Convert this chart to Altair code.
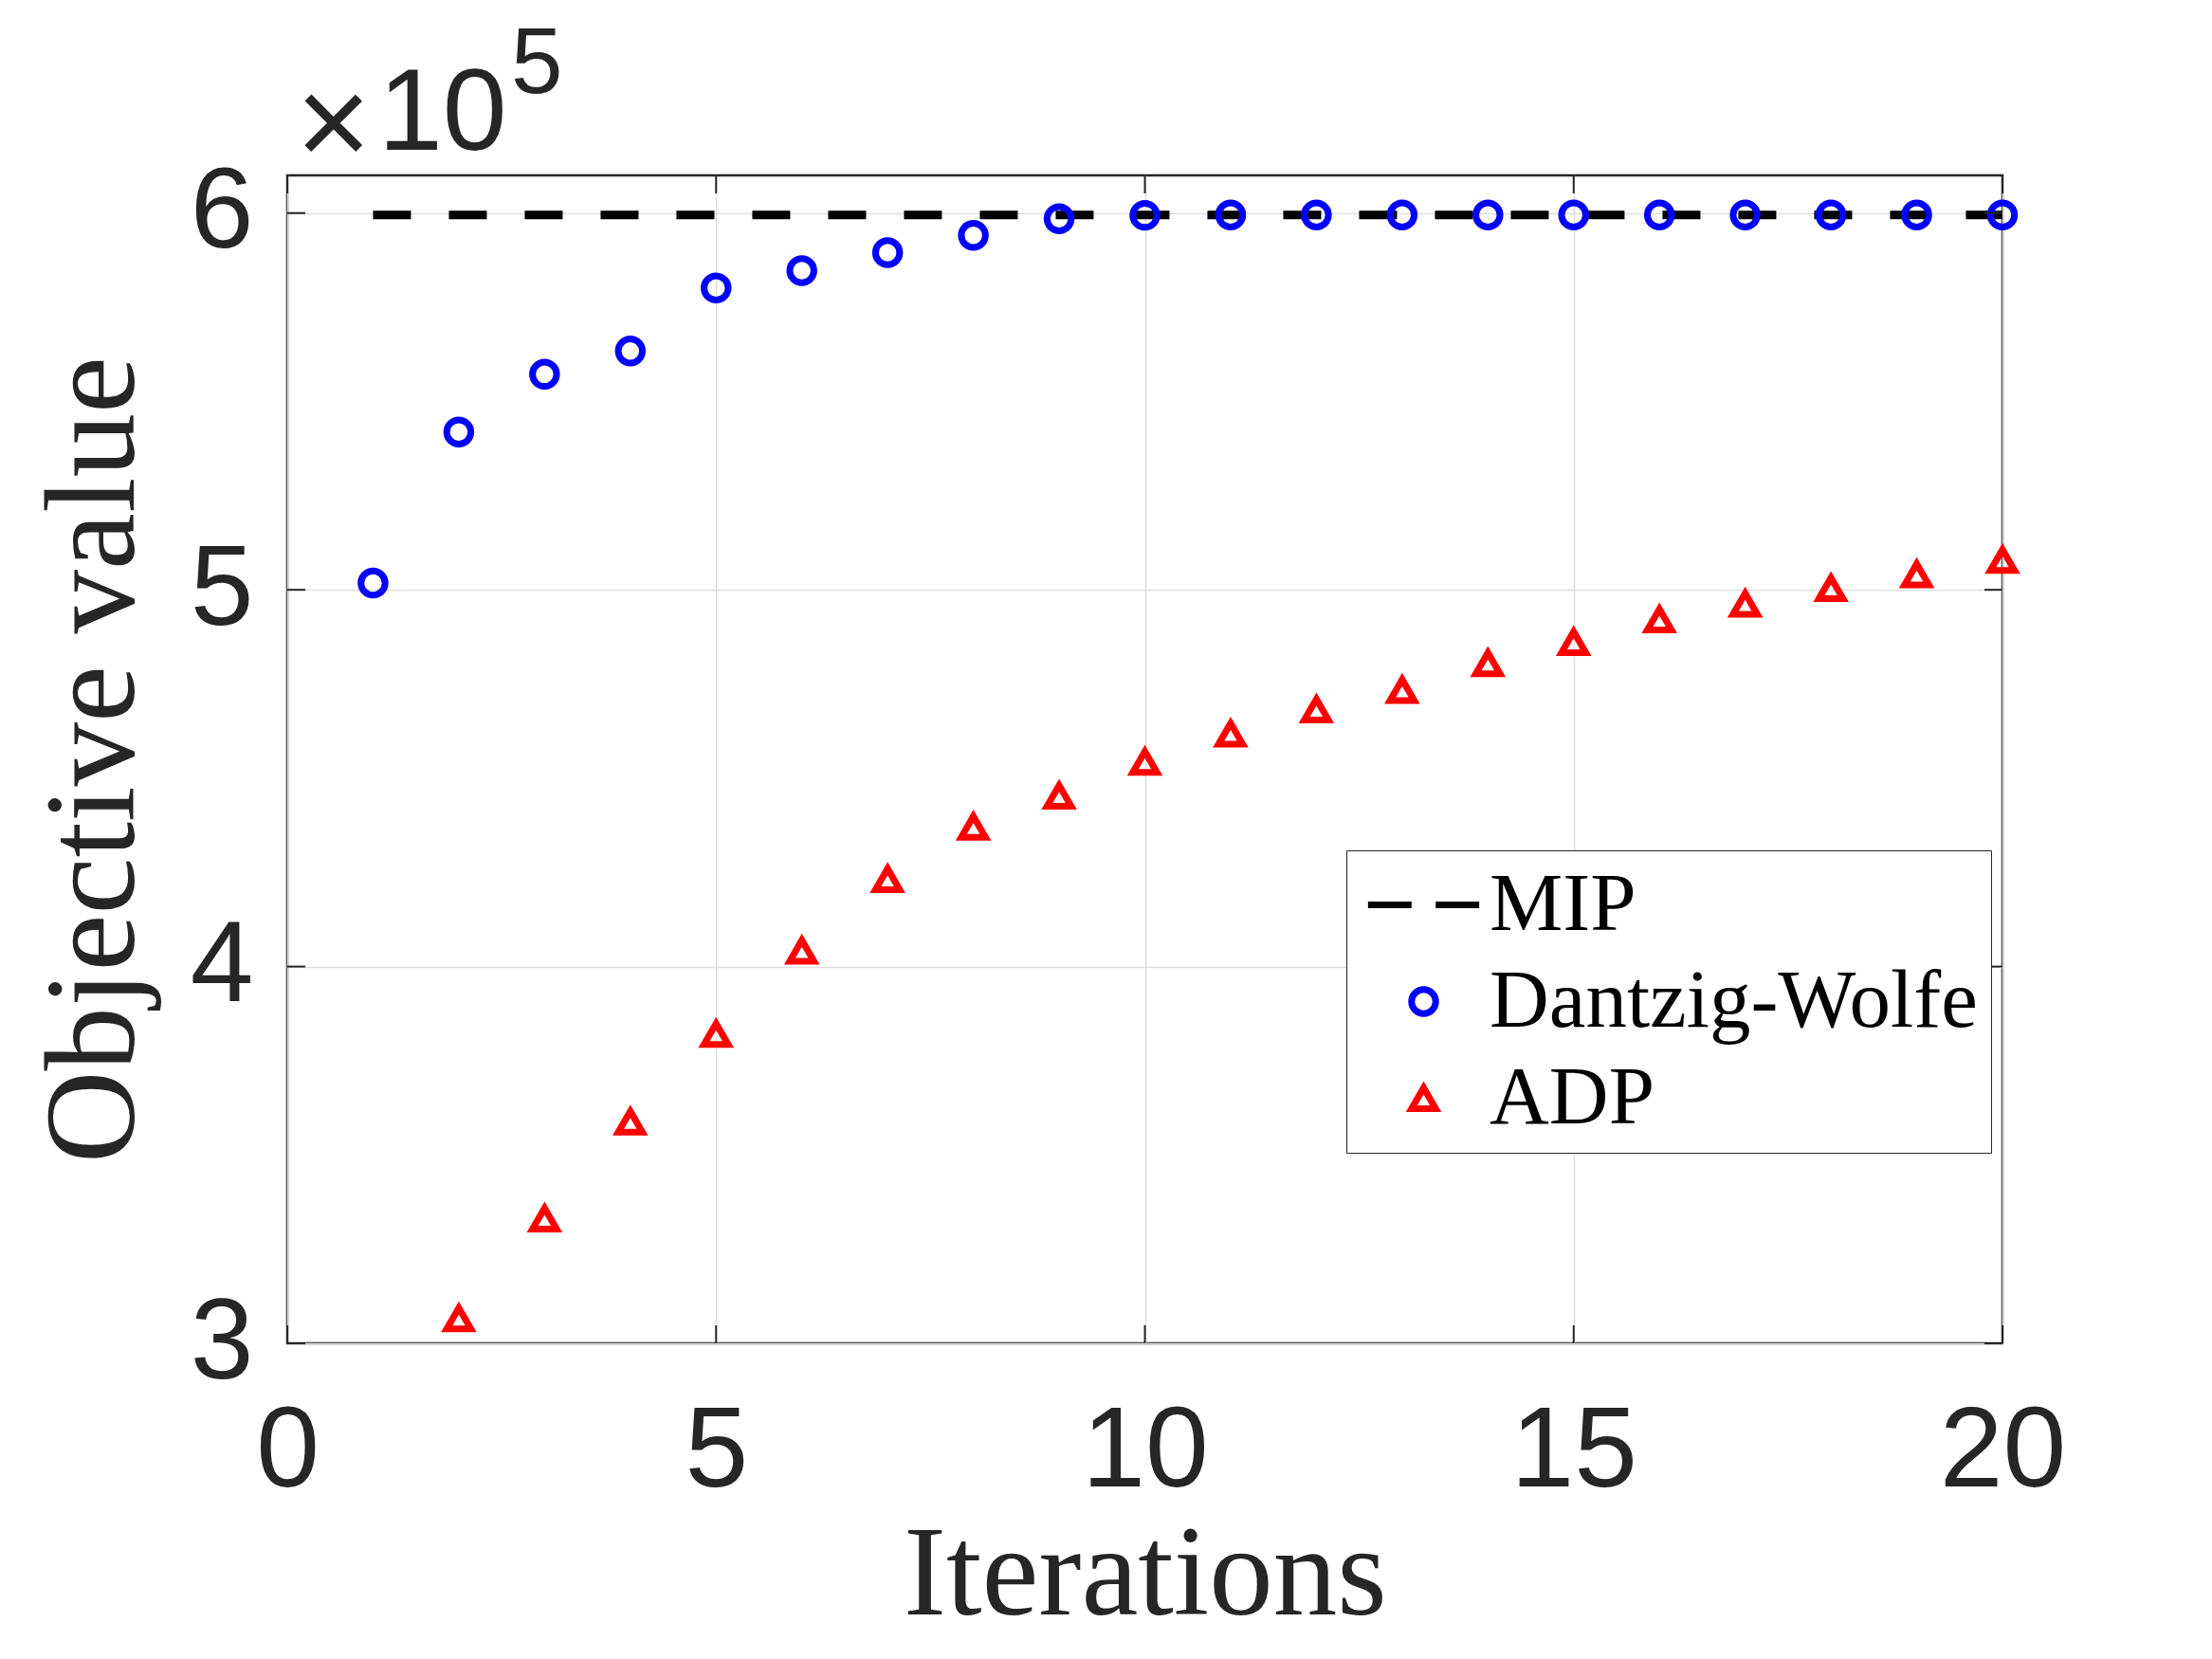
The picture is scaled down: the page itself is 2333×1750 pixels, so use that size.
import altair as alt
import pandas as pd

# ---- data ----
dw_iterations = list(range(1, 21))
dw_values = [501800, 541900, 557200, 563400, 580100, 584700, 589500, 594100, 598500, 599400,
             599500, 599500, 599500, 599500, 599500, 599500, 599500, 599500, 599500, 599500]
adp_iterations = list(range(2, 21))
adp_values = [306600, 333100, 358800, 382100, 404200, 423200, 437100, 445300, 454300, 461800,
              468200, 473400, 480500, 486100, 492100, 496300, 500400, 504100, 507900]
mip_value = 599500
mip_start, mip_end = 1, 20

series_domain = ["MIP", "Dantzig-Wolfe", "ADP"]
series_colors = ["#000000", "#0000ff", "#ff0000"]
dash_symbol = "M-4.6,0H-1.0M1.0,0H4.6"
series_shapes = [dash_symbol, "circle", "triangle-up"]

x_ticks = [0, 5, 10, 15, 20]
y_ticks = [300000, 400000, 500000, 600000]
x_domain = [0, 20]
y_domain = [300000, 610000]
exponent_times = "×"
exponent_base = "10"
exponent_power = "5"

W, H = 1809, 1232
AX = "#262626"

points = pd.concat([
    pd.DataFrame({"iteration": dw_iterations, "value": dw_values, "series": "Dantzig-Wolfe"}),
    pd.DataFrame({"iteration": adp_iterations, "value": adp_values, "series": "ADP"}),
])
mip_df = pd.DataFrame({"start": [mip_start], "end": [mip_end], "value": [mip_value]})
xt_df = pd.DataFrame({"t": x_ticks})
yt_df = pd.DataFrame({"t": y_ticks})

x_scale = alt.Scale(domain=x_domain, nice=False, zero=False)
y_scale = alt.Scale(domain=y_domain, nice=False, zero=False)
x_axis = alt.Axis(title="Iterations", values=x_ticks, labelPadding=55, titlePadding=4,
                  format="d")
y_axis = alt.Axis(title="Objective value", values=y_ticks, labelPadding=36, titlePadding=32,
                  labelExpr="datum.value / 100000")

def X(field):
    return alt.X(field, type="quantitative", scale=x_scale, axis=x_axis)

def Y(field):
    return alt.Y(field, type="quantitative", scale=y_scale, axis=y_axis)

mip = alt.Chart(mip_df).mark_rule(color="black", strokeWidth=9, strokeDash=[40, 40],
                                  strokeCap="butt").encode(
    x=X("start"), x2="end", y=Y("value"))

pts = alt.Chart(points).mark_point(filled=False, strokeWidth=7, opacity=1).encode(
    x=X("iteration"), y=Y("value"),
    color=alt.Color("series:N", scale=alt.Scale(domain=series_domain, range=series_colors),
                    legend=alt.Legend(title=None, orient="none", legendX=1117, legendY=712,
                                      padding=14, rowPadding=14, strokeColor=AX,
                                      fillColor="white", cornerRadius=0,
                                      labelFont="Liberation Serif", labelFontSize=87,
                                      labelColor="black", labelLimit=3000, symbolSize=650,
                                      symbolStrokeWidth=7, symbolOffset=24,
                                      labelOffset=26, symbolFillColor="transparent")),
    shape=alt.Shape("series:N", scale=alt.Scale(domain=series_domain, range=series_shapes)),
    size=alt.Size("series:N", scale=alt.Scale(domain=series_domain, range=[650, 650, 780]),
                  legend=None),
)

tl = 19
bt = alt.Chart(xt_df).mark_rule(color=AX, strokeWidth=2).encode(
    x=X("t"), y=alt.value(H), y2=alt.value(H - tl))
tt = alt.Chart(xt_df).mark_rule(color=AX, strokeWidth=2).encode(
    x=X("t"), y=alt.value(0), y2=alt.value(tl))
lt = alt.Chart(yt_df).mark_rule(color=AX, strokeWidth=2).encode(
    y=Y("t"), x=alt.value(0), x2=alt.value(tl))
rt = alt.Chart(yt_df).mark_rule(color=AX, strokeWidth=2).encode(
    y=Y("t"), x=alt.value(W), x2=alt.value(W - tl))

def label_text(text, size, x, y):
    return alt.Chart(pd.DataFrame({"label": [text]})).mark_text(
        align="left", baseline="alphabetic", font="Liberation Sans", fontSize=size, color=AX
    ).encode(text="label:N", x=alt.value(x), y=alt.value(y))

times_txt = label_text(exponent_times, 136, 9, -10)
base_txt = label_text(exponent_base, 122, 96, -27)
pow_txt = label_text(exponent_power, 98, 236, -87)

chart = alt.layer(mip, pts, bt, tt, lt, rt, times_txt, base_txt, pow_txt).properties(
    width=W, height=H,
    padding={"left": 295, "top": 177, "right": 200, "bottom": 330},
    autosize=alt.AutoSizeParams(type="none"),
    background="white",
).configure_view(stroke=AX, strokeWidth=2.5).configure_axis(
    grid=True, gridColor="#dedede", gridWidth=1.5, domain=False, ticks=False,
    labelFont="Liberation Sans", labelFontSize=120, labelColor=AX,
    titleFont="Liberation Serif", titleFontSize=135, titleFontWeight="normal", titleColor=AX,
    labelFlush=False, labelOverlap=False,
)

chart.save("out.html", embed_options={"renderer": "svg", "actions": False})
